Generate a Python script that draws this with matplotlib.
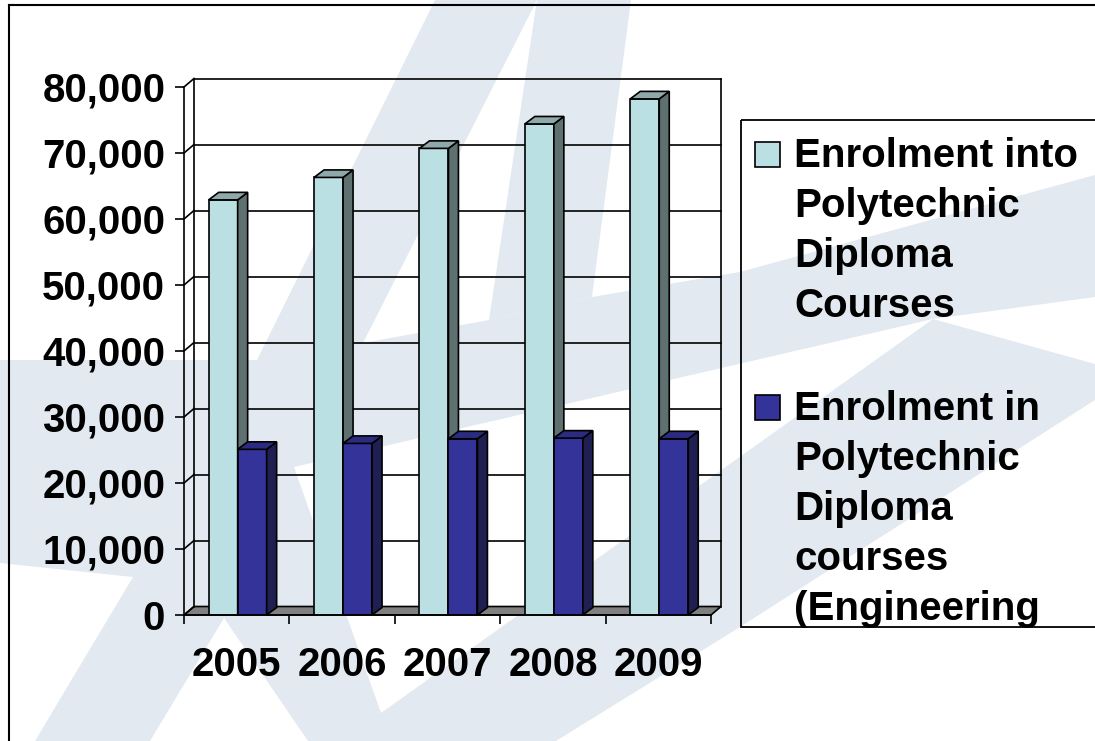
import matplotlib
matplotlib.use("Agg")
import matplotlib.pyplot as plt
from matplotlib.patches import Polygon, Rectangle

plt.rcParams['font.family'] = ['Liberation Sans', 'DejaVu Sans']

# ---------------- data ----------------
years = ["2005", "2006", "2007", "2008", "2009"]
series_names = ["Enrolment into\nPolytechnic\nDiploma\nCourses",
                "Enrolment in\nPolytechnic\nDiploma\ncourses\n(Engineering"]
enrol_all = [62900, 66300, 70700, 74400, 78200]
enrol_eng = [25100, 26000, 26700, 26800, 26700]
yticks = [0, 10000, 20000, 30000, 40000, 50000, 60000, 70000, 80000]
ytick_labels = ["0", "10,000", "20,000", "30,000", "40,000", "50,000",
                "60,000", "70,000", "80,000"]

# ---------------- style ----------------
W, H = 1095, 741
LIGHT = ('#bae0e3', '#8fa8a9', '#5e7070')   # front, top, side
DARK = ('#333399', '#2b2b82', '#1f1f52')
WM = '#e2e9f0'
FS = 29

fig = plt.figure(figsize=(W / 100, H / 100), dpi=100)
fig.patch.set_facecolor('white')

# background axes in pixel coordinates (watermark, frame, legend)
bg = fig.add_axes([0, 0, 1, 1], zorder=0)
bg.set_xlim(0, W)
bg.set_ylim(H, 0)
bg.axis('off')

wm_polys = [
    # left leg of the logo
    [(435, 0), (537, 0), (363, 343), (224, 618), (150, 741), (35, 741), (133, 577), (257, 360)],
    # upper right piece
    [(537, 0), (631, 0), (592, 297), (489, 320)],
    # cross swoosh
    [(0, 360), (259, 360), (363, 343), (489, 320), (592, 297), (740, 272), (1095, 175),
     (1095, 297), (933, 319), (486, 425), (294, 467), (224, 618), (133, 577), (0, 563)],
    # lower swoosh
    [(294, 467), (933, 319), (1095, 364), (1095, 400), (740, 627), (556, 741),
     (308, 741), (224, 618)],
]
for p in wm_polys:
    bg.add_patch(Polygon(p, closed=True, facecolor=WM, edgecolor='none'))
# white wedge inside the lower swoosh
bg.add_patch(Polygon([(294, 467), (381, 713), (933, 319)], closed=True,
                     facecolor='white', edgecolor='none'))

# outer frame (only left and top visible)
bg.plot([9, 9], [H + 5, 5], color='black', lw=1.5, solid_capstyle='projecting')
bg.plot([9, W + 5], [5, 5], color='black', lw=1.5, solid_capstyle='projecting')

# ---------------- main 3D-look axes ----------------
x0p, x1p, y0p, y1p = 184, 711, 615, 87
ax = fig.add_axes([x0p / W, 1 - y0p / H, (x1p - x0p) / W, (y0p - y1p) / H], zorder=1)
ax.set_xlim(0, len(years))
ax.set_ylim(0, 80000)
ax.patch.set_alpha(0)

n = len(years)
dpx = n / (x1p - x0p)          # data units per pixel, x
dpy = 80000 / (y0p - y1p)      # data units per pixel, y
DX, DY = 10 * dpx, 8.5 * dpy   # depth offset of walls
BDX, BDY = 10 * dpx, 7.5 * dpy # depth offset of bars

LW = 1.2
# floor
ax.add_patch(Polygon([(0, 0), (n, 0), (n + DX, DY), (DX, DY)], closed=True,
                     facecolor='#808080', edgecolor='black', lw=LW, zorder=1, clip_on=False))
# back wall gridlines and side wall diagonals
for v in yticks:
    if v > 0:
        ax.plot([DX, n + DX], [v + DY, v + DY], color='black', lw=LW, zorder=1, clip_on=False)
    ax.plot([0, DX], [v, v + DY], color='black', lw=LW, zorder=1, clip_on=False)
ax.plot([DX, DX], [DY, 80000 + DY], color='black', lw=LW, zorder=1, clip_on=False)
ax.plot([n + DX, n + DX], [DY, 80000 + DY], color='black', lw=LW, zorder=1, clip_on=False)

# bars
bw = 0.275
xl = [i + 0.234 for i in range(n)]
xd = [i + 0.234 + bw for i in range(n)]


def box(xs, hs, cols, z):
    ax.bar(xs, hs, width=bw, align='edge', color=cols[0], edgecolor='black',
           lw=LW, zorder=z)
    for x, h in zip(xs, hs):
        top = [(x, h), (x + bw, h), (x + bw + BDX, h + BDY), (x + BDX, h + BDY)]
        side = [(x + bw, 0), (x + bw + BDX, BDY), (x + bw + BDX, h + BDY), (x + bw, h)]
        ax.add_patch(Polygon(side, closed=True, facecolor=cols[2], edgecolor='black',
                             lw=LW, zorder=z, clip_on=False))
        ax.add_patch(Polygon(top, closed=True, facecolor=cols[1], edgecolor='black',
                             lw=LW, zorder=z, clip_on=False))


box(xl, enrol_all, LIGHT, 3)
box(xd, enrol_eng, DARK, 4)

# axes, ticks, labels
for s in ['top', 'right']:
    ax.spines[s].set_visible(False)
for s in ['left', 'bottom']:
    ax.spines[s].set_linewidth(LW)
    ax.spines[s].set_zorder(5)
ax.set_yticks(yticks, ytick_labels)
ax.tick_params(axis='y', direction='out', length=6.5, width=LW, pad=7,
               labelsize=FS)
ax.set_xticks(range(n + 1), [''] * (n + 1))
ax.set_xticks([i + 0.5 for i in range(n)], years, minor=True)
ax.tick_params(axis='x', which='major', direction='out', length=6.5, width=LW)
ax.tick_params(axis='x', which='minor', length=0, pad=22, labelsize=FS)
for t in ax.get_yticklabels() + ax.get_xticklabels(minor=True):
    t.set_fontweight('bold')

# ---------------- legend (drawn in pixel coordinates) ----------------
bg.add_patch(Rectangle((741, 120), 420, 507, facecolor='none', edgecolor='black',
                       lw=1.3, zorder=2))
leg_tops = [142, 395]
for name, cols, ty in zip(series_names, [LIGHT, DARK], leg_tops):
    bg.add_patch(Rectangle((755, ty), 25, 25, facecolor=cols[0], edgecolor='black',
                           lw=1.2, zorder=3))
    bg.text(794, ty - 5, name, fontsize=FS, fontweight='bold', va='top', ha='left',
            linespacing=1.40, zorder=3)

fig.savefig('out.png', dpi=100, facecolor='white')
